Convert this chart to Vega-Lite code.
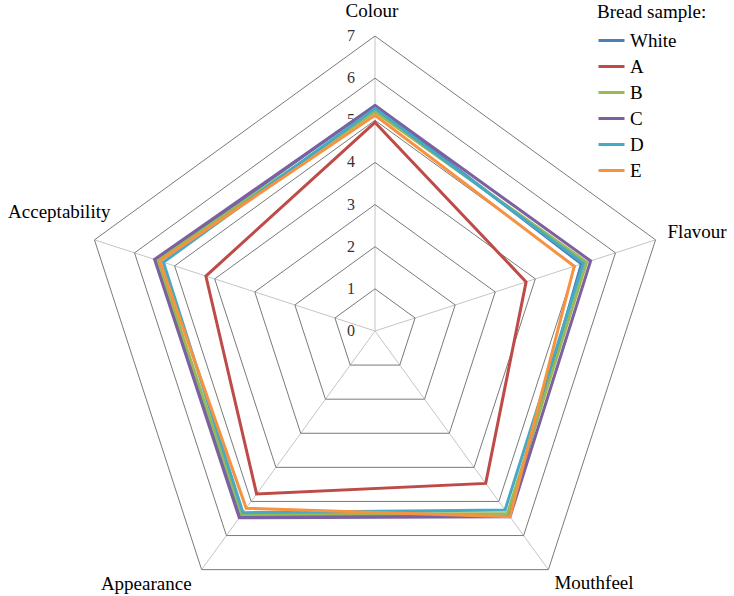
{
  "$schema": "https://vega.github.io/schema/vega-lite/v6.json",
  "width": 734,
  "height": 596,
  "autosize": {"type": "fit", "contains": "padding"},
  "padding": 0,
  "background": "white",
  "config": {"view": {"stroke": null}, "font": "Liberation Serif"},
  "datasets": {
    "attrs": [
      {"attribute": "Colour", "idx": 0, "levels": [0, 1, 2, 3, 4, 5, 6, 7]},
      {"attribute": "Flavour", "idx": 1, "levels": [0, 1, 2, 3, 4, 5, 6, 7]},
      {"attribute": "Mouthfeel", "idx": 2, "levels": [0, 1, 2, 3, 4, 5, 6, 7]},
      {"attribute": "Appearance", "idx": 3, "levels": [0, 1, 2, 3, 4, 5, 6, 7]},
      {"attribute": "Acceptability", "idx": 4, "levels": [0, 1, 2, 3, 4, 5, 6, 7]}
    ],
    "scores": [
      {"sample": "White", "attribute": "Colour", "value": 5.35},
      {"sample": "White", "attribute": "Flavour", "value": 5.15},
      {"sample": "White", "attribute": "Mouthfeel", "value": 5.42},
      {"sample": "White", "attribute": "Appearance", "value": 5.45},
      {"sample": "White", "attribute": "Acceptability", "value": 5.45},
      {"sample": "A", "attribute": "Colour", "value": 4.95},
      {"sample": "A", "attribute": "Flavour", "value": 3.77},
      {"sample": "A", "attribute": "Mouthfeel", "value": 4.47},
      {"sample": "A", "attribute": "Appearance", "value": 4.78},
      {"sample": "A", "attribute": "Acceptability", "value": 4.22},
      {"sample": "B", "attribute": "Colour", "value": 5.2},
      {"sample": "B", "attribute": "Flavour", "value": 5.28},
      {"sample": "B", "attribute": "Mouthfeel", "value": 5.35},
      {"sample": "B", "attribute": "Appearance", "value": 5.38},
      {"sample": "B", "attribute": "Acceptability", "value": 5.42},
      {"sample": "C", "attribute": "Colour", "value": 5.35},
      {"sample": "C", "attribute": "Flavour", "value": 5.38},
      {"sample": "C", "attribute": "Mouthfeel", "value": 5.45},
      {"sample": "C", "attribute": "Appearance", "value": 5.48},
      {"sample": "C", "attribute": "Acceptability", "value": 5.5},
      {"sample": "D", "attribute": "Colour", "value": 5.28},
      {"sample": "D", "attribute": "Flavour", "value": 5.2},
      {"sample": "D", "attribute": "Mouthfeel", "value": 5.25},
      {"sample": "D", "attribute": "Appearance", "value": 5.33},
      {"sample": "D", "attribute": "Acceptability", "value": 5.28},
      {"sample": "E", "attribute": "Colour", "value": 5.12},
      {"sample": "E", "attribute": "Flavour", "value": 4.97},
      {"sample": "E", "attribute": "Mouthfeel", "value": 5.45},
      {"sample": "E", "attribute": "Appearance", "value": 5.2},
      {"sample": "E", "attribute": "Acceptability", "value": 5.37}
    ]
  },
  "layer": [
    {
      "data": {"name": "attrs"},
      "transform": [
        {"flatten": ["levels"], "as": ["level"]},
        {"filter": "datum.level === 0 || datum.level === 7"},
        {"calculate": "PI / 2 - datum.idx * 2 * PI / 5", "as": "theta"},
        {"calculate": "datum.level * cos(datum.theta)", "as": "px"},
        {"calculate": "datum.level * sin(datum.theta)", "as": "py"}
      ],
      "mark": {"type": "line", "stroke": "#c4c4c4", "strokeWidth": 1},
      "encoding": {
        "x": {"field": "px", "type": "quantitative", "scale": {"domain": [-8.899, 8.519], "nice": false, "zero": false}, "axis": null},
        "y": {"field": "py", "type": "quantitative", "scale": {"domain": [-6.289, 7.855], "nice": false, "zero": false}, "axis": null},
        "detail": {"field": "attribute", "type": "nominal"},
        "order": {"field": "level", "type": "quantitative"}
      }
    },
    {
      "data": {"name": "attrs"},
      "transform": [
        {"flatten": ["levels"], "as": ["level"]},
        {"filter": "datum.level > 0"},
        {"calculate": "PI / 2 - datum.idx * 2 * PI / 5", "as": "theta"},
        {"calculate": "datum.level * cos(datum.theta)", "as": "px"},
        {"calculate": "datum.level * sin(datum.theta)", "as": "py"}
      ],
      "mark": {"type": "line", "interpolate": "linear-closed", "stroke": "#7a7a7a", "strokeWidth": 1},
      "encoding": {
        "x": {"field": "px", "type": "quantitative", "scale": {"domain": [-8.899, 8.519], "nice": false, "zero": false}, "axis": null},
        "y": {"field": "py", "type": "quantitative", "scale": {"domain": [-6.289, 7.855], "nice": false, "zero": false}, "axis": null},
        "detail": {"field": "level", "type": "nominal"},
        "order": {"field": "idx", "type": "quantitative"}
      }
    },
    {
      "data": {"name": "attrs"},
      "transform": [
        {"filter": "datum.attribute === 'Colour'"},
        {"flatten": ["levels"], "as": ["level"]},
        {"calculate": "PI / 2 - datum.idx * 2 * PI / 5", "as": "theta"},
        {"calculate": "datum.level * cos(datum.theta)", "as": "px"},
        {"calculate": "datum.level * sin(datum.theta)", "as": "py"}
      ],
      "mark": {"type": "text", "align": "center", "baseline": "middle", "dx": -24, "dy": 0, "fontSize": 16, "font": "Liberation Serif", "color": "#333333"},
      "encoding": {
        "x": {"field": "px", "type": "quantitative", "scale": {"domain": [-8.899, 8.519], "nice": false, "zero": false}, "axis": null},
        "y": {"field": "py", "type": "quantitative", "scale": {"domain": [-6.289, 7.855], "nice": false, "zero": false}, "axis": null},
        "text": {"field": "level", "type": "quantitative"}
      }
    },
    {
      "data": {"name": "scores"},
      "transform": [
        {"lookup": "attribute", "from": {"data": {"name": "attrs"}, "key": "attribute", "fields": ["idx"]}},
        {"calculate": "PI / 2 - datum.idx * 2 * PI / 5", "as": "theta"},
        {"calculate": "datum.value * cos(datum.theta)", "as": "px"},
        {"calculate": "datum.value * sin(datum.theta)", "as": "py"}
      ],
      "mark": {"type": "line", "interpolate": "linear-closed", "strokeWidth": 3, "strokeJoin": "miter"},
      "encoding": {
        "x": {"field": "px", "type": "quantitative", "scale": {"domain": [-8.899, 8.519], "nice": false, "zero": false}, "axis": null},
        "y": {"field": "py", "type": "quantitative", "scale": {"domain": [-6.289, 7.855], "nice": false, "zero": false}, "axis": null},
        "color": {
          "field": "sample",
          "type": "nominal",
          "sort": ["White", "A", "B", "C", "D", "E"],
          "scale": {"domain": ["White", "A", "B", "C", "D", "E"], "range": ["#4a7ebb", "#be4b48", "#98b954", "#7d60a0", "#46aac5", "#f69240"]},
          "legend": {
            "orient": "none",
            "legendX": 597,
            "legendY": 3,
            "title": "Bread sample:",
            "titleFont": "Liberation Serif",
            "titleFontSize": 19,
            "titleFontWeight": "normal",
            "titleColor": "#000000",
            "titlePadding": 4,
            "labelFont": "Liberation Serif",
            "labelFontSize": 19,
            "labelColor": "#000000",
            "labelOffset": 4,
            "symbolType": "stroke",
            "symbolSize": 676,
            "symbolStrokeWidth": 3,
            "rowPadding": 1
          }
        },
        "order": {"field": "idx", "type": "quantitative"}
      }
    },
    {
      "data": {"name": "attrs"},
      "transform": [
        {"calculate": "PI / 2 - datum.idx * 2 * PI / 5", "as": "theta"},
        {"calculate": "7 * cos(datum.theta)", "as": "ex"},
        {"calculate": "7 * sin(datum.theta)", "as": "ey"}
      ],
      "layer": [
        {
          "transform": [{"filter": "datum.attribute === 'Colour'"}],
          "mark": {"type": "text", "align": "center", "baseline": "alphabetic", "dx": -3, "dy": -19, "fontSize": 19, "font": "Liberation Serif", "color": "#000000"},
          "encoding": {
            "x": {"field": "ex", "type": "quantitative", "scale": {"domain": [-8.899, 8.519], "nice": false, "zero": false}, "axis": null},
            "y": {"field": "ey", "type": "quantitative", "scale": {"domain": [-6.289, 7.855], "nice": false, "zero": false}, "axis": null},
            "text": {"field": "attribute", "type": "nominal"}
          }
        },
        {
          "transform": [{"filter": "datum.attribute === 'Flavour'"}],
          "mark": {"type": "text", "align": "left", "baseline": "alphabetic", "dx": 12, "dy": -2, "fontSize": 19, "font": "Liberation Serif", "color": "#000000"},
          "encoding": {
            "x": {"field": "ex", "type": "quantitative", "scale": {"domain": [-8.899, 8.519], "nice": false, "zero": false}, "axis": null},
            "y": {"field": "ey", "type": "quantitative", "scale": {"domain": [-6.289, 7.855], "nice": false, "zero": false}, "axis": null},
            "text": {"field": "attribute", "type": "nominal"}
          }
        },
        {
          "transform": [{"filter": "datum.attribute === 'Mouthfeel'"}],
          "mark": {"type": "text", "align": "left", "baseline": "alphabetic", "dx": 6, "dy": 19, "fontSize": 19, "font": "Liberation Serif", "color": "#000000"},
          "encoding": {
            "x": {"field": "ex", "type": "quantitative", "scale": {"domain": [-8.899, 8.519], "nice": false, "zero": false}, "axis": null},
            "y": {"field": "ey", "type": "quantitative", "scale": {"domain": [-6.289, 7.855], "nice": false, "zero": false}, "axis": null},
            "text": {"field": "attribute", "type": "nominal"}
          }
        },
        {
          "transform": [{"filter": "datum.attribute === 'Appearance'"}],
          "mark": {"type": "text", "align": "right", "baseline": "alphabetic", "dx": -10, "dy": 20, "fontSize": 19, "font": "Liberation Serif", "color": "#000000"},
          "encoding": {
            "x": {"field": "ex", "type": "quantitative", "scale": {"domain": [-8.899, 8.519], "nice": false, "zero": false}, "axis": null},
            "y": {"field": "ey", "type": "quantitative", "scale": {"domain": [-6.289, 7.855], "nice": false, "zero": false}, "axis": null},
            "text": {"field": "attribute", "type": "nominal"}
          }
        },
        {
          "transform": [{"filter": "datum.attribute === 'Acceptability'"}],
          "mark": {"type": "text", "align": "right", "baseline": "alphabetic", "dx": 16, "dy": -22, "fontSize": 19, "font": "Liberation Serif", "color": "#000000"},
          "encoding": {
            "x": {"field": "ex", "type": "quantitative", "scale": {"domain": [-8.899, 8.519], "nice": false, "zero": false}, "axis": null},
            "y": {"field": "ey", "type": "quantitative", "scale": {"domain": [-6.289, 7.855], "nice": false, "zero": false}, "axis": null},
            "text": {"field": "attribute", "type": "nominal"}
          }
        }
      ]
    }
  ]
}
